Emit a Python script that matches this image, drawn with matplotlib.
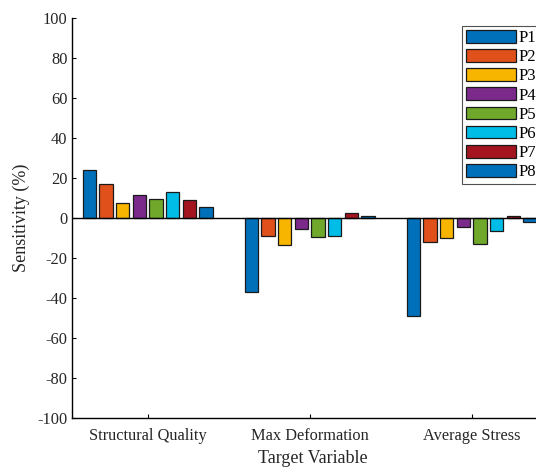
import matplotlib
matplotlib.use("Agg")
import matplotlib.pyplot as plt
import numpy as np

categories = ["Structural Quality", "Max Deformation", "Average Stress"]
series_names = ["P1", "P2", "P3", "P4", "P5", "P6", "P7", "P8"]
P1 = [24.0, -37.0, -49.0]
P2 = [17.3, -8.9, -12.0]
P3 = [7.8, -13.5, -9.8]
P4 = [11.8, -5.4, -4.5]
P5 = [9.8, -9.2, -12.8]
P6 = [13.3, -8.9, -6.5]
P7 = [9.2, 2.8, 1.0]
P8 = [5.7, 1.1, -1.8]
series = [P1, P2, P3, P4, P5, P6, P7, P8]
colors = ["#0070BA", "#E0501A", "#F7B500", "#7B2A8C", "#6FA82A", "#00BDE8", "#A3141F", "#0070BA"]

plt.rcParams['font.family'] = ['Liberation Serif', 'DejaVu Serif']
plt.rcParams['axes.unicode_minus'] = False

fig = plt.figure(figsize=(5.36, 4.67), dpi=100)
ax = fig.add_axes([72.3/536, 1-418.3/467, (552.7-72.3)/536, (418.3-18)/467])

x = np.arange(1, len(categories)+1)
step = 0.103
width = 0.082
for i, (vals, c, name) in enumerate(zip(series, colors, series_names)):
    ax.bar(x + (i - 3.5)*step, vals, width=width, color=c, edgecolor="#1a1a1a",
           linewidth=0.9, label=name, zorder=2)

ax.axhline(0, color="black", linewidth=1.0, zorder=3)
ax.set_xlim(0.535, 3.5)
ax.set_ylim(-100, 100)
ax.set_yticks(np.arange(-100, 101, 20))
ax.set_xticks(x)
ax.set_xticklabels(categories)
ax.tick_params(direction="in", length=3, labelsize=11.8, colors="black", width=0.8)
ax.tick_params(axis="x", pad=7)
for lab in ax.get_yticklabels() + ax.get_xticklabels():
    lab.set_color("#262626")
ax.spines["top"].set_visible(False)
ax.spines["right"].set_visible(False)
ax.spines["left"].set_linewidth(1.0)
ax.spines["bottom"].set_linewidth(1.0)
ax.set_ylabel("Sensitivity (%)", fontsize=13, color="#262626", labelpad=5)
ax.set_xlabel("Target Variable", fontsize=13, color="#262626", labelpad=4)

leg = ax.legend(loc="upper left", bbox_to_anchor=((462.3-72.3)/(552.7-72.3), 1-(25.7-18)/400.3),
                fontsize=12, frameon=True, fancybox=False, edgecolor="#262626",
                handlelength=3.0, handleheight=0.8, labelspacing=0.18,
                borderpad=0.25, handletextpad=0.15, borderaxespad=0)
leg.get_frame().set_linewidth(0.8)

fig.savefig("out.png", dpi=100)
